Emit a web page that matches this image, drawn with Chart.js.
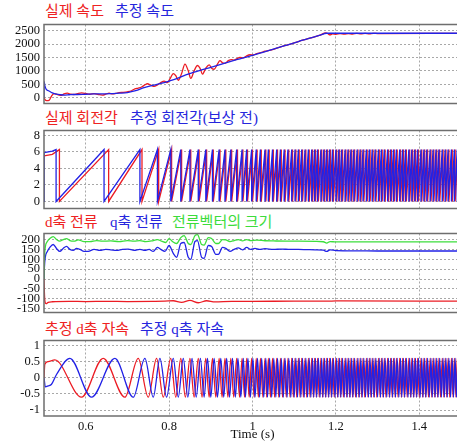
<!DOCTYPE html>
<html>
<head>
<meta charset="utf-8">
<script src="https://cdn.jsdelivr.net/npm/chart.js"></script>
<style>
  html, body { margin: 0; padding: 0; background: #fff; }
  #wrap { position: relative; width: 457px; height: 442px; overflow: hidden; }
  canvas { position: absolute; left: 0; }
  .ttl { position: absolute; font-family: "Liberation Serif", "Noto Sans CJK KR", serif; font-size: 15px; line-height: 16px; white-space: nowrap; }
  .r { color: #ee2222; } .b { color: #2626dd; } .g { color: #3cdc3c; }
</style>
</head>
<body>
<div id="wrap">
  <div class="ttl r" style="left:45px;top:3px">실제 속도</div>
  <div class="ttl b" style="left:115px;top:3px">추정 속도</div>
  <div class="ttl r" style="left:45px;top:110px">실제 회전각</div>
  <div class="ttl b" style="left:130px;top:110px">추정 회전각(보상 전)</div>
  <div class="ttl r" style="left:45px;top:214px">d축 전류</div>
  <div class="ttl b" style="left:110px;top:214px">q축 전류</div>
  <div class="ttl g" style="left:172px;top:214px">전류벡터의 크기</div>
  <div class="ttl r" style="left:45px;top:321px">추정 d축 자속</div>
  <div class="ttl b" style="left:140px;top:321px">추정 q축 자속</div>

  <canvas id="c1" width="461" height="102" style="top:13px"></canvas>
  <canvas id="c2" width="461" height="101" style="top:119px"></canvas>
  <canvas id="c3" width="461" height="102" style="top:222px"></canvas>
  <canvas id="c4" width="461" height="113" style="top:329px"></canvas>
</div>
<script>
// time axis
const timeTicks = [0.6, 0.8, 1.0, 1.2, 1.4];

// panel 1: speed [t, rpm]
const speedTicks = [0, 500, 1000, 1500, 2000, 2500];
const speedReal = [
  [0.500, 0], [0.502, -60], [0.506, -110], [0.512, -100], [0.518, 60], [0.524, 150], [0.530, 130],
  [0.536, 100], [0.542, 90], [0.548, 140], [0.556, 170], [0.564, 130], [0.572, 120], [0.580, 150],
  [0.590, 180], [0.600, 160], [0.610, 130], [0.620, 150], [0.630, 120], [0.640, 100], [0.648, 130],
  [0.656, 170], [0.664, 140], [0.672, 160], [0.680, 190], [0.690, 200], [0.700, 220], [0.710, 260],
  [0.718, 330], [0.726, 360], [0.734, 400], [0.742, 480], [0.748, 520], [0.756, 470], [0.764, 420],
  [0.772, 480], [0.780, 560], [0.788, 620], [0.796, 560], [0.802, 700], [0.810, 900], [0.816, 820],
  [0.822, 650], [0.830, 900], [0.838, 1250], [0.846, 1000], [0.852, 720], [0.860, 1000], [0.868, 1200],
  [0.874, 1100], [0.880, 880], [0.888, 1100], [0.896, 1220], [0.902, 1100], [0.908, 1060], [0.916, 1250],
  [0.922, 1380], [0.928, 1300], [0.934, 1280], [0.942, 1380], [0.950, 1420], [0.956, 1400], [0.962, 1450],
  [0.970, 1500], [0.978, 1480], [0.986, 1560], [0.994, 1600], [1.002, 1590], [1.010, 1640], [1.020, 1680],
  [1.030, 1730], [1.040, 1760], [1.050, 1800], [1.060, 1860], [1.080, 1950], [1.100, 2040], [1.120, 2140],
  [1.140, 2230], [1.160, 2320], [1.176, 2410], [1.180, 2390], [1.186, 2340], [1.192, 2380], [1.200, 2360],
  [1.210, 2390], [1.220, 2370], [1.230, 2390], [1.240, 2370], [1.250, 2395], [1.260, 2375], [1.270, 2395],
  [1.280, 2380], [1.290, 2395], [1.300, 2390], [1.500, 2395]
];
const speedEst = [
  [0.500, 0], [0.5005, 600], [0.502, 450], [0.506, 300], [0.512, 250], [0.520, 180], [0.530, 130],
  [0.540, 110], [0.550, 100], [0.560, 110], [0.570, 120], [0.580, 120], [0.600, 130], [0.620, 140],
  [0.640, 140], [0.660, 150], [0.680, 170], [0.700, 190], [0.720, 260], [0.740, 380], [0.760, 460],
  [0.780, 530], [0.800, 620], [0.820, 720], [0.840, 850], [0.860, 950], [0.880, 1050], [0.900, 1130],
  [0.920, 1220], [0.940, 1320], [0.960, 1410], [0.980, 1490], [1.000, 1580], [1.020, 1670], [1.040, 1760],
  [1.060, 1860], [1.080, 1950], [1.100, 2040], [1.120, 2140], [1.140, 2230], [1.160, 2320], [1.178, 2400],
  [1.500, 2400]
];

// panel 2: rotor angle, wrap times (s) where angle jumps 2pi -> 0
const angleTicks = [0, 2, 4, 6, 8];
const ANGLE_TOP = 6.28;
const thetaRealStart = [[0.500, 5.5], [0.520, 5.7]];
const thetaRealWraps = [
  0.537, 0.655, 0.735, 0.775, 0.806, 0.830, 0.852, 0.872, 0.890, 0.906, 0.922, 0.936, 0.950, 0.964,
  0.977, 0.988, 1.000, 1.011, 1.021, 1.032, 1.040, 1.050, 1.060, 1.069, 1.078, 1.087, 1.096, 1.104,
  1.112, 1.120, 1.128, 1.136, 1.144, 1.151, 1.158, 1.166, 1.173, 1.180, 1.187, 1.194, 1.202, 1.209,
  1.216, 1.224, 1.231, 1.238, 1.245, 1.253, 1.260, 1.267, 1.275, 1.282, 1.289, 1.296, 1.304, 1.311,
  1.318, 1.326, 1.333, 1.340, 1.347, 1.355, 1.362, 1.369, 1.377, 1.384, 1.391, 1.398, 1.406, 1.413,
  1.420, 1.428, 1.435, 1.442, 1.449, 1.457, 1.464, 1.471, 1.479, 1.486, 1.493
];
const thetaRealEnd = [[1.500, 5.9]];
const thetaEstStart = [[0.500, 0], [0.5005, 5.9], [0.520, 6.1]];
const thetaEstWraps = [
  0.529, 0.644, 0.730, 0.772, 0.804, 0.828, 0.850, 0.870, 0.888, 0.904, 0.920, 0.934, 0.948, 0.962,
  0.975, 0.986, 0.998, 1.009, 1.019, 1.030, 1.038, 1.048, 1.058, 1.067, 1.076, 1.085, 1.094, 1.102,
  1.110, 1.118, 1.126, 1.134, 1.142, 1.149, 1.156, 1.164, 1.171, 1.178, 1.185, 1.192, 1.200, 1.207,
  1.214, 1.222, 1.229, 1.236, 1.243, 1.251, 1.258, 1.265, 1.273, 1.280, 1.287, 1.294, 1.302, 1.309,
  1.316, 1.324, 1.331, 1.338, 1.345, 1.353, 1.360, 1.367, 1.375, 1.382, 1.389, 1.396, 1.404, 1.411,
  1.418, 1.426, 1.433, 1.440, 1.447, 1.455, 1.462, 1.469, 1.477, 1.484, 1.491
];
const thetaEstEnd = [[1.500, 6.1]];

// panel 3: currents [t, A]
const currentTicks = [-150, -100, -50, 0, 50, 100, 150, 200];
const currentD = [
  [0.500, 0], [0.5008, -60], [0.502, -110], [0.505, -125], [0.510, -118], [0.520, -115], [0.560, -113],
  [0.600, -114], [0.650, -113], [0.700, -114], [0.760, -113], [0.790, -112], [0.810, -110], [0.830, -118],
  [0.850, -108], [0.870, -120], [0.890, -110], [0.910, -116], [0.950, -113], [1.000, -113], [1.100, -112],
  [1.180, -112], [1.200, -111], [1.500, -112]
];
const currentQ = [
  [0.500, 0], [0.501, 60], [0.503, 110], [0.508, 140], [0.514, 160], [0.522, 175], [0.530, 155],
  [0.538, 140], [0.546, 155], [0.554, 165], [0.562, 150], [0.570, 145], [0.578, 155], [0.586, 150],
  [0.596, 140], [0.606, 140], [0.620, 150], [0.634, 145], [0.648, 150], [0.660, 148], [0.674, 145],
  [0.688, 150], [0.702, 152], [0.716, 145], [0.730, 150], [0.742, 145], [0.752, 150], [0.762, 140],
  [0.772, 160], [0.780, 150], [0.790, 140], [0.800, 170], [0.810, 130], [0.818, 110], [0.828, 180],
  [0.836, 185], [0.846, 110], [0.852, 100], [0.862, 190], [0.868, 195], [0.878, 110], [0.884, 105],
  [0.894, 170], [0.902, 165], [0.912, 125], [0.918, 125], [0.928, 160], [0.936, 155], [0.946, 140],
  [0.956, 150], [0.966, 158], [0.976, 148], [0.986, 160], [0.996, 150], [1.006, 155], [1.016, 150],
  [1.030, 154], [1.050, 150], [1.070, 152], [1.090, 150], [1.110, 150], [1.130, 149], [1.150, 148],
  [1.170, 146], [1.178, 140], [1.186, 148], [1.200, 144], [1.250, 143], [1.300, 142], [1.400, 142],
  [1.500, 142]
];
const currentMag = [
  [0.500, 0], [0.501, 100], [0.503, 160], [0.508, 190], [0.514, 205], [0.522, 215], [0.530, 200],
  [0.538, 192], [0.546, 200], [0.554, 205], [0.562, 195], [0.572, 192], [0.582, 198], [0.596, 190],
  [0.610, 190], [0.626, 195], [0.640, 192], [0.660, 193], [0.680, 190], [0.700, 195], [0.716, 192],
  [0.730, 195], [0.744, 190], [0.758, 193], [0.772, 200], [0.782, 192], [0.792, 185], [0.800, 205],
  [0.808, 190], [0.818, 180], [0.828, 210], [0.836, 220], [0.846, 180], [0.852, 175], [0.862, 220],
  [0.868, 225], [0.878, 175], [0.884, 172], [0.894, 210], [0.902, 205], [0.912, 180], [0.918, 180],
  [0.928, 200], [0.936, 198], [0.946, 190], [0.956, 195], [0.966, 200], [0.976, 193], [0.986, 200],
  [0.996, 195], [1.010, 197], [1.030, 194], [1.050, 193], [1.080, 192], [1.110, 192], [1.150, 191],
  [1.170, 189], [1.178, 182], [1.186, 190], [1.200, 188], [1.300, 188], [1.500, 188]
];

// panel 4: estimated flux, lead-in points then alternating extremum times
const fluxTicks = [-1, -0.5, 0, 0.5, 1];
const FLUX_HI = 0.6, FLUX_LO = -0.6;
const fluxDStart = [[0.500, 0], [0.502, 0.42], [0.510, 0.5], [0.526, 0.55]];
const fluxDExtrema = [ // first one is a trough
  0.590, 0.642, 0.694, 0.726, 0.750, 0.770, 0.786, 0.804, 0.816, 0.828, 0.839, 0.850, 0.860, 0.870,
  0.879, 0.888, 0.896, 0.904, 0.912, 0.920, 0.927, 0.934, 0.941, 0.948, 0.955, 0.962, 0.969, 0.975,
  0.981, 0.986, 0.992, 0.998, 1.004, 1.009, 1.014, 1.019, 1.025, 1.030, 1.034, 1.038, 1.043, 1.048,
  1.053, 1.058, 1.063, 1.067, 1.072, 1.076, 1.081, 1.085, 1.090, 1.094, 1.098, 1.102, 1.106, 1.110,
  1.114, 1.118, 1.122, 1.126, 1.130, 1.134, 1.138, 1.142, 1.146, 1.149, 1.153, 1.156, 1.160, 1.164,
  1.168, 1.171, 1.175, 1.178, 1.182, 1.185, 1.189, 1.192, 1.196, 1.200, 1.204, 1.207, 1.211, 1.214,
  1.218, 1.222, 1.226, 1.229, 1.233, 1.236, 1.240, 1.243, 1.247, 1.251, 1.255, 1.258, 1.262, 1.265,
  1.269, 1.273, 1.277, 1.280, 1.284, 1.287, 1.291, 1.294, 1.298, 1.302, 1.306, 1.309, 1.313, 1.316,
  1.320, 1.324, 1.328, 1.331, 1.335, 1.338, 1.342, 1.345, 1.349, 1.353, 1.357, 1.360, 1.364, 1.367,
  1.371, 1.375, 1.379, 1.382, 1.386, 1.389, 1.393, 1.396, 1.400, 1.404, 1.408, 1.411, 1.415, 1.418,
  1.422, 1.426, 1.430, 1.433, 1.437, 1.440, 1.444, 1.447, 1.451, 1.455, 1.459, 1.462, 1.466, 1.469,
  1.473, 1.477, 1.481, 1.484, 1.488, 1.491, 1.495
];
const fluxQStart = [[0.500, 0], [0.501, -0.1], [0.503, -0.28], [0.510, -0.25], [0.518, -0.2], [0.530, 0.1]];
const fluxQExtrema = [ // first one is a peak
  0.562, 0.614, 0.670, 0.714, 0.742, 0.762, 0.778, 0.794, 0.810, 0.822, 0.834, 0.845, 0.855, 0.865,
  0.875, 0.884, 0.892, 0.900, 0.908, 0.916, 0.924, 0.931, 0.938, 0.945, 0.952, 0.959, 0.965, 0.972,
  0.978, 0.983, 0.989, 0.995, 1.001, 1.006, 1.012, 1.017, 1.022, 1.027, 1.032, 1.036, 1.041, 1.046,
  1.051, 1.056, 1.060, 1.065, 1.069, 1.074, 1.078, 1.083, 1.087, 1.092, 1.096, 1.100, 1.104, 1.108,
  1.112, 1.116, 1.120, 1.124, 1.128, 1.132, 1.136, 1.140, 1.144, 1.147, 1.151, 1.154, 1.158, 1.162,
  1.166, 1.169, 1.173, 1.176, 1.180, 1.183, 1.187, 1.190, 1.194, 1.198, 1.202, 1.205, 1.209, 1.212,
  1.216, 1.220, 1.224, 1.227, 1.231, 1.234, 1.238, 1.241, 1.245, 1.249, 1.253, 1.256, 1.260, 1.263,
  1.267, 1.271, 1.275, 1.278, 1.282, 1.285, 1.289, 1.292, 1.296, 1.300, 1.304, 1.307, 1.311, 1.314,
  1.318, 1.322, 1.326, 1.329, 1.333, 1.336, 1.340, 1.343, 1.347, 1.351, 1.355, 1.358, 1.362, 1.365,
  1.369, 1.373, 1.377, 1.380, 1.384, 1.387, 1.391, 1.394, 1.398, 1.402, 1.406, 1.409, 1.413, 1.416,
  1.420, 1.424, 1.428, 1.431, 1.435, 1.438, 1.442, 1.445, 1.449, 1.453, 1.457, 1.460, 1.464, 1.467,
  1.471, 1.475, 1.479, 1.482, 1.486, 1.489, 1.493, 1.496
];

const RED = "rgb(236,28,36)", BLUE = "rgb(34,34,230)", GREEN = "rgb(60,222,60)";
const tickFont = { family: "Liberation Serif", size: 12.5 };

const pts = arr => arr.map(([x, y]) => ({ x, y }));

function sawtooth(start, wraps, end) {
  const out = pts(start);
  wraps.forEach(t => { out.push({ x: t, y: ANGLE_TOP }); out.push({ x: t, y: 0 }); });
  return out.concat(pts(end));
}

function extrema(start, times, firstHigh) {
  const out = pts(start);
  times.forEach((t, i) => {
    const high = (i % 2 === 0) === firstHigh;
    out.push({ x: t, y: high ? FLUX_HI : FLUX_LO });
  });
  return out;
}

function line(data, color, smooth) {
  return {
    data, borderColor: color, borderWidth: 1.3, pointRadius: 0, fill: false,
    tension: 0, cubicInterpolationMode: smooth ? "monotone" : "default"
  };
}

// grey frame round each plot area
const framePlugin = {
  id: "frame",
  afterDraw(chart) {
    const a = chart.chartArea, ctx = chart.ctx;
    ctx.save();
    ctx.strokeStyle = "#6e6e6e";
    ctx.lineWidth = 1.5;
    ctx.strokeRect(a.left, a.top, a.right - a.left, a.bottom - a.top);
    ctx.restore();
  }
};

function makeChart(id, datasets, yMin, yMax, yTicks, showX) {
  return new Chart(document.getElementById(id), {
    type: "line",
    data: { datasets },
    options: {
      animation: false,
      responsive: false,
      devicePixelRatio: 1,
      parsing: false,
      layout: { padding: { top: 10, bottom: showX ? 0 : 10, left: 0, right: 0 } },
      plugins: { legend: { display: false }, tooltip: { enabled: false } },
      scales: {
        x: {
          type: "linear", min: 0.5, max: 1.5,
          afterBuildTicks: s => { s.ticks = timeTicks.map(v => ({ value: v })); },
          afterFit: s => { s.height = showX ? 26 : 0; },
          grid: { color: "#a8a8a8", lineWidth: 1, drawTicks: false },
          border: { display: false, dash: [2, 2] },
          ticks: { display: showX, autoSkip: false, maxRotation: 0, padding: 3, color: "#111", font: tickFont, callback: v => String(v) },
          title: { display: showX, text: "Time (s)", padding: 0, color: "#111", font: { family: "Liberation Serif", size: 13 } }
        },
        y: {
          min: yMin, max: yMax,
          afterBuildTicks: s => { s.ticks = yTicks.map(v => ({ value: v })); },
          afterFit: s => { s.width = 44; },
          grid: { color: "#a8a8a8", lineWidth: 1, drawTicks: false },
          border: { display: false, dash: [2, 2] },
          ticks: { autoSkip: false, padding: 4, color: "#111", font: tickFont, callback: v => String(v) }
        }
      }
    },
    plugins: [framePlugin]
  });
}

makeChart("c1", [
  line(pts(speedEst), BLUE, true),
  line(pts(speedReal), RED, true)
], -215, 2726, speedTicks, false);

makeChart("c2", [
  line(sawtooth(thetaEstStart, thetaEstWraps, thetaEstEnd), BLUE, false),
  line(sawtooth(thetaRealStart, thetaRealWraps, thetaRealEnd), RED, false)
], -0.85, 8.58, angleTicks, false);

makeChart("c3", [
  line(pts(currentMag), GREEN, true),
  line(pts(currentQ), BLUE, true),
  line(pts(currentD), RED, true)
], -169.5, 230.7, currentTicks, false);

makeChart("c4", [
  line(extrema(fluxQStart, fluxQExtrema, true), BLUE, true),
  line(extrema(fluxDStart, fluxDExtrema, false), RED, true)
], -1.18, 1.15, fluxTicks, true);
</script>
</body>
</html>
